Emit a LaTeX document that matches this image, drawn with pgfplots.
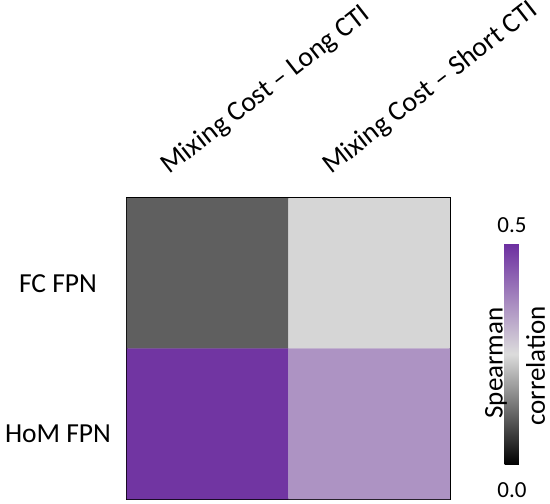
\documentclass[border=0pt]{standalone}
\usepackage{pgfplots}
\pgfplotsset{compat=1.18}
\usepackage{fontspec}
\setmainfont{Carlito}
\pgfplotstableread{
x y c
0 0 0.108
1 0 0.243
0 1 0.49
1 1 0.355
}\spear
\begin{document}
\begin{tikzpicture}
\path[use as bounding box] (0,0) rectangle (550pt,504pt);
\begin{axis}[
  at={(127pt,5pt)}, anchor=south west,
  scale only axis, width=323pt, height=301pt,
  xmin=-0.5, xmax=1.5, ymin=-0.5, ymax=1.5,
  y dir=reverse,
  xtick={0,1}, ytick={0,1},
  xticklabels={Mixing Cost -- Long CTI, Mixing Cost -- Short CTI},
  yticklabels={FC FPN, HoM FPN},
  xticklabel pos=top,
  major tick length=0pt,
  tick style={draw=none},
  axis line style={line width=2.5pt, black},
  xticklabel style={font=\fontsize{28}{32}\selectfont, inner sep=0pt, anchor=base west, xshift=-38pt, yshift=23pt, rotate=38},
  yticklabel style={font=\fontsize{27.5}{32}\selectfont, inner sep=0pt, anchor=base, xshift=-69pt, yshift=-19pt},
  colormap={spear}{rgb255(0)=(0,0,0); rgb255(1)=(220,220,220); rgb255(2)=(108,46,160)},
  point meta min=0, point meta max=0.5,
  colorbar,
  colorbar style={
    at={(parent axis.north east)}, anchor=north west,
    xshift=46pt, yshift=-45pt,
    width=15pt, height=222pt,
    ytick=\empty, xtick=\empty,
    axis line style={draw=none},
    tick style={draw=none},
    extra description/.code={
      \node[font=\fontsize{23}{26}\selectfont, inner sep=0pt, anchor=base] at (rel axis cs:0.5,1) [yshift=10pt] {0.5};
      \node[font=\fontsize{23}{26}\selectfont, inner sep=0pt, anchor=base] at (rel axis cs:0.5,0) [yshift=-33pt] {0.0};
      \node[font=\fontsize{27}{30}\selectfont, inner sep=0pt, rotate=90, anchor=center] at ([xshift=-8.5pt, yshift=-9pt]rel axis cs:0,0.5) {Spearman};
      \node[font=\fontsize{27}{30}\selectfont, inner sep=0pt, rotate=90, anchor=center] at ([xshift=16pt, yshift=-12pt]rel axis cs:1,0.5) {correlation};
    },
  },
]
\addplot[matrix plot*, point meta=explicit, mesh/cols=2] table[meta=c] {\spear};
\end{axis}
\end{tikzpicture}
\end{document}
